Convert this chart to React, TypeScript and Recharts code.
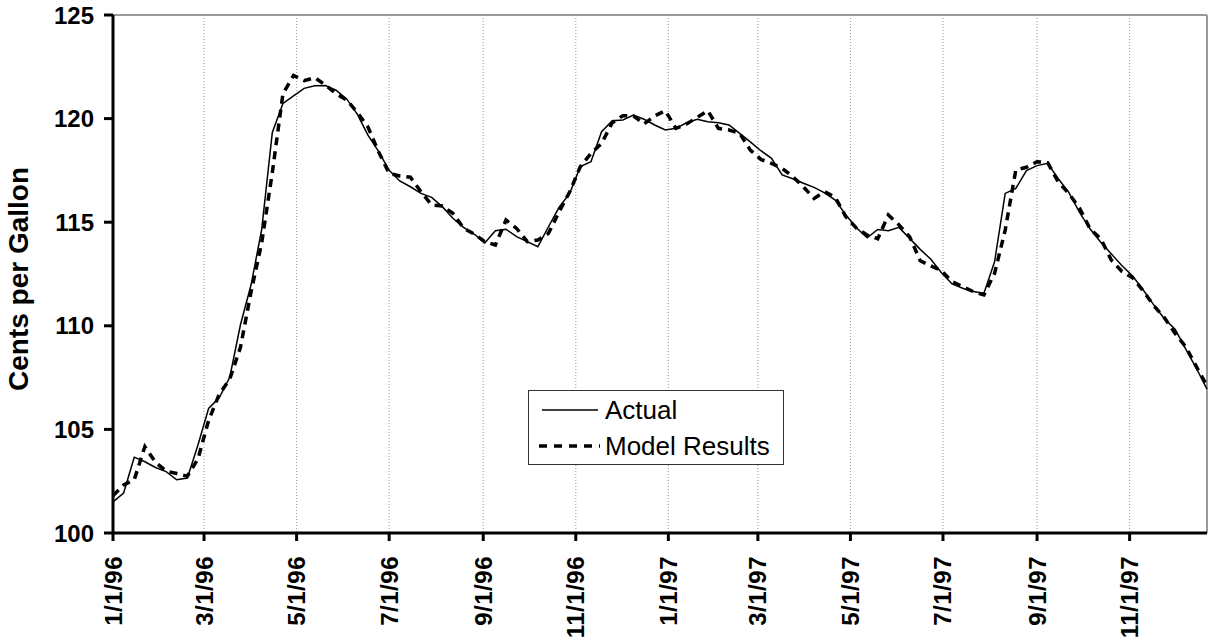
import React from "react";
import {
  LineChart,
  Line,
  XAxis,
  YAxis,
  CartesianGrid,
  ReferenceLine,
  Legend,
} from "recharts";

// weekly prices, Mondays from 1/1/96
const actual = [
  101.5, 101.93, 103.66, 103.44, 103.16, 102.96, 102.57, 102.65, 104.25, 106.01,
  106.52, 107.53, 110.05, 111.98, 114.65, 119.33, 120.73, 121.1, 121.46, 121.59,
  121.6, 121.37, 120.95, 120.22, 119.2, 118.42, 117.5, 116.99, 116.71, 116.39,
  116.2, 115.75, 115.19, 114.75, 114.43, 114.0, 114.59, 114.66, 114.3, 114.06,
  113.82, 114.78, 115.72, 116.39, 117.68, 117.92, 119.37, 119.9, 119.93, 120.17,
  119.97, 119.69, 119.45, 119.53, 119.8, 119.97, 119.85, 119.8, 119.69, 119.29,
  118.88, 118.45, 118.08, 117.28, 117.1, 116.88, 116.68, 116.42, 116.07, 115.35,
  114.73, 114.25, 114.65, 114.59, 114.75, 114.22, 113.69, 113.21, 112.56, 112.02,
  111.81, 111.65, 111.57, 113.09, 116.39, 116.63, 117.49, 117.73, 117.84, 117.1,
  116.43, 115.47, 114.67, 114.03, 113.46, 112.9, 112.4, 111.73, 111.0, 110.33,
  109.83, 108.87, 107.95, 106.94,
];

const modelResults = [
  101.8, 102.32, 102.57, 104.17, 103.41, 102.99, 102.87, 102.74, 103.58, 105.43,
  106.69, 107.44, 108.96, 111.64, 114.0, 117.4, 121.2, 122.08, 121.83, 121.98,
  121.62, 121.2, 120.9, 120.3, 119.6, 118.4, 117.36, 117.23, 117.17, 116.47,
  115.83, 115.78, 115.43, 114.71, 114.43, 114.06, 113.9, 115.1, 114.7, 114.06,
  114.14, 114.46, 115.5, 116.47, 117.68, 118.32, 118.8, 119.8, 120.14, 120.13,
  119.74, 120.13, 120.38, 119.53, 119.74, 120.06, 120.38, 119.53, 119.45, 119.29,
  118.48, 118.03, 117.84, 117.6, 117.2, 116.71, 116.15, 116.47, 116.2, 115.26,
  114.71, 114.38, 114.2, 115.35, 114.87, 114.3, 113.14, 112.89, 112.66, 112.13,
  111.89, 111.65, 111.49, 112.53, 114.62, 117.52, 117.65, 117.92, 117.87, 116.94,
  116.38, 115.68, 114.67, 114.2, 113.16, 112.62, 112.32, 111.68, 110.97, 110.38,
  109.63, 108.99, 108.03, 107.1,
];

const tickLabels = [
  "1/1/96", "3/1/96", "5/1/96", "7/1/96", "9/1/96", "11/1/96",
  "1/1/97", "3/1/97", "5/1/97", "7/1/97", "9/1/97", "11/1/97",
];

const yTicks = [100, 105, 110, 115, 120, 125];

const DAY = 86400000;
const START = Date.UTC(1996, 0, 1);

function labelToDay(label: string): number {
  const [m, d, y] = label.split("/").map(Number);
  return Math.round((Date.UTC(1900 + y, m - 1, d) - START) / DAY);
}

const tickDays = tickLabels.map(labelToDay);
const labelByDay: Record<number, string> = {};
tickLabels.forEach((l, i) => (labelByDay[tickDays[i]] = l));

const data = actual.map((v, i) => ({ day: i * 7, actual: v, model: modelResults[i] }));
const lastDay = data[data.length - 1].day;

const FONT = "'Liberation Sans', Arial, Helvetica, sans-serif";

function XTick(props: any) {
  const { x, y, payload } = props;
  const ty = y + 13;
  return (
    <text
      x={x}
      y={ty}
      transform={`rotate(-90 ${x} ${ty})`}
      textAnchor="end"
      dominantBaseline="central"
      fontFamily={FONT}
      fontWeight="bold"
      fontSize={24}
      letterSpacing={0.5}
      fill="#000"
    >
      {labelByDay[payload.value]}
    </text>
  );
}

function YAxisTitle(props: any) {
  const { viewBox } = props;
  const cx = viewBox.x + 18;
  const cy = viewBox.y + viewBox.height / 2 + 5;
  return (
    <text
      x={cx}
      y={cy}
      transform={`rotate(-90 ${cx} ${cy})`}
      textAnchor="middle"
      dominantBaseline="central"
      fontFamily={FONT}
      fontWeight="bold"
      fontSize={28}
      fill="#000"
    >
      Cents per Gallon
    </text>
  );
}

function LegendBox() {
  return (
    <svg width={256} height={75} style={{ display: "block" }}>
      <rect x={0.5} y={0.5} width={255} height={74} fill="#fff" stroke="#333" strokeWidth={1} />
      <line x1={14} y1={20} x2={70} y2={20} stroke="#000" strokeWidth={1.5} />
      <text x={77} y={20} dominantBaseline="central" fontFamily={FONT} fontSize={26} fill="#000">
        Actual
      </text>
      <line x1={11} y1={56} x2={72} y2={56} stroke="#000" strokeWidth={3.5} strokeDasharray="8 7" />
      <text x={77} y={56} dominantBaseline="central" fontFamily={FONT} fontSize={26} fill="#000">
        Model Results
      </text>
    </svg>
  );
}

export default function App() {
  return (
    <div style={{ position: "absolute", left: 0, top: 0, background: "#fff" }}>
      <LineChart
        width={1210}
        height={643}
        data={data}
        margin={{ top: 15, right: 3, left: 0, bottom: 0 }}
      >
        <CartesianGrid horizontal={false} vertical stroke="#9a9a9a" strokeDasharray="1 2" />
        <ReferenceLine y={125} stroke="#9a9a9a" strokeWidth={2} />
        <ReferenceLine x={lastDay} stroke="#9a9a9a" strokeWidth={2} />
        <XAxis
          dataKey="day"
          type="number"
          domain={[0, lastDay]}
          ticks={tickDays}
          interval={0}
          height={110}
          axisLine={{ stroke: "#000", strokeWidth: 3 }}
          tickLine={{ stroke: "#000", strokeWidth: 3 }}
          tickSize={8}
          tick={<XTick />}
        />
        <YAxis
          type="number"
          domain={[100, 125]}
          ticks={yTicks}
          interval={0}
          width={113}
          axisLine={{ stroke: "#000", strokeWidth: 3 }}
          tickLine={{ stroke: "#000", strokeWidth: 3 }}
          tickSize={9}
          tickMargin={10}
          tick={{ fill: "#000", fontSize: 24, fontWeight: "bold", fontFamily: FONT }}
          label={YAxisTitle}
        />
        <Legend
          layout="vertical"
          align="center"
          verticalAlign="middle"
          content={() => <LegendBox />}
          wrapperStyle={{ position: "absolute", left: 528, top: 390, width: 256, height: 75 }}
        />
        <Line
          type="linear"
          dataKey="actual"
          name="Actual"
          stroke="#000"
          strokeWidth={1.5}
          dot={false}
          isAnimationActive={false}
        />
        <Line
          type="linear"
          dataKey="model"
          name="Model Results"
          stroke="#000"
          strokeWidth={3.5}
          strokeDasharray="8 6"
          dot={false}
          isAnimationActive={false}
        />
      </LineChart>
    </div>
  );
}
